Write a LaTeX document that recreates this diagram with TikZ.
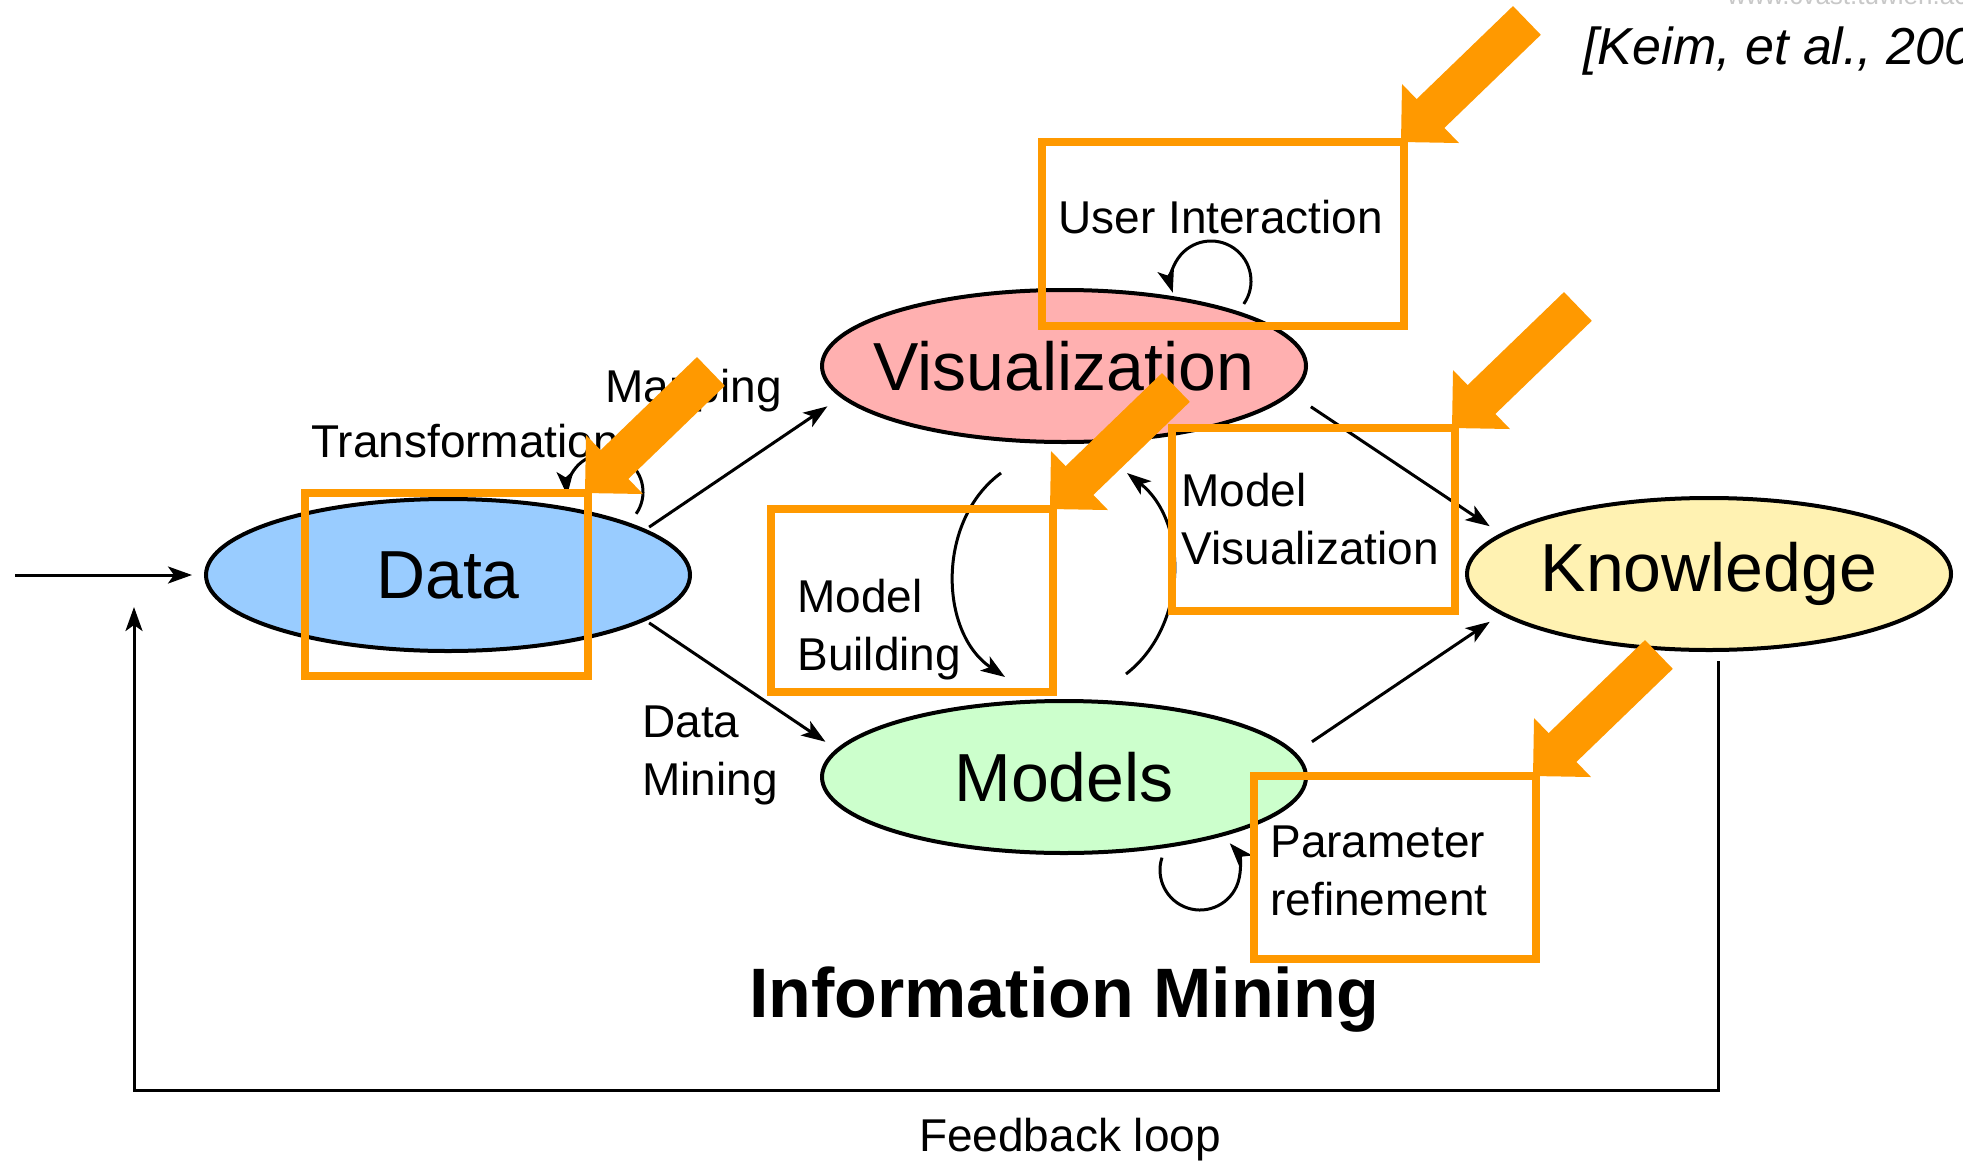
\documentclass[tikz,border=0pt]{standalone}
\usepackage{fontspec}
\setmainfont{Liberation Sans}
\usetikzlibrary{shapes.geometric,arrows.meta}

\definecolor{datablue}{RGB}{153,204,255}
\definecolor{vispink}{RGB}{255,176,176}
\definecolor{modgreen}{RGB}{204,255,204}
\definecolor{knowyellow}{RGB}{255,242,178}
\definecolor{hlorange}{RGB}{255,153,0}
\definecolor{urlgrey}{RGB}{200,200,200}

\tikzset{
  stage/.style={ellipse, draw, line width=2pt, minimum width=242pt,
    minimum height=76pt, inner xsep=-40pt, inner ysep=0pt,
    font=\fontsize{34}{40}\selectfont},
  conn/.style={line width=1.5pt, -{Stealth[length=12pt,width=8.5pt,inset=3pt]}},
  lbl/.style={anchor=base west, align=left, inner sep=0pt,
    font=\fontsize{23}{29}\selectfont},
  hlbox/.style={draw=hlorange, line width=4.25pt},
}

% thick orange pointer, tip at (#1,#2)
\newcommand{\hlarrow}[2]{%
  \fill[hlorange, shift={(#1,#2)}, rotate=224]
    (0,0) -- (-41,41) -- (-41,20) -- (-175,20) -- (-175,-20) -- (-41,-20)
    -- (-41,-41) -- cycle;}

\begin{document}
\begin{tikzpicture}[x=0.5pt,y=0.5pt]
\path[use as bounding box, fill=white] (0,0) rectangle (1963,-1161);

\node[stage, fill=datablue] (data) at (448,-575) {Data};
\node[stage, fill=vispink] (vis) at (1064,-366) {Visualization};
\node[stage, fill=modgreen] (models) at (1064,-777) {Models};
\node[stage, fill=knowyellow] (know) at (1709,-574) {Knowledge};

\coordinate (input) at (15,-575);
\coordinate (fbend) at (134,-607);
\coordinate (mb1) at (1001,-473);
\coordinate (mb2) at (1005,-677);
\coordinate (mv1) at (1126,-674);
\coordinate (mv2) at (1127,-473);
\coordinate (trloop) at (605,-492);
\coordinate (uiloop) at (1211,-281);
\coordinate (prloop) at (1200,-870);

\draw[conn, shorten >=6pt] (input) -- (data.west);
\draw[conn, shorten <=2pt, shorten >=8pt] (data.13) -- (vis.188);
\draw[conn, shorten <=2pt, shorten >=6.5pt] (data.-13) -- (models.173);
\draw[conn, shorten <=11.5pt, shorten >=6.5pt] (vis.-7) -- (know.169);
\draw[conn, shorten <=9.75pt, shorten >=6.5pt] (models.6.5) -- (know.191);
\draw[conn] (mb1) to[bend right=55] (mb2);
\draw[conn] (mv1) to[bend right=52] (mv2);
\draw[conn] ([xshift=4.5pt]know.south) ++(0,-9) -- ++(0,-429) -| (fbend);

% self loops
\draw[conn] (trloop) ++(-35:38) arc[start angle=-35, end angle=185, radius=38];
\draw[conn] (uiloop) ++(-35:40) arc[start angle=-35, end angle=197, radius=40];
\draw[conn] (prloop) ++(162:40) arc[start angle=162, end angle=402, radius=40];

% two-line labels sit on the baseline of their last line
\node[lbl] (mapping) at (605,-402) {Mapping};
\node[lbl] (transf) at (311,-457) {Transformation};
\node[lbl] (datamining) at (642,-795) {Data\\Mining};
\node[lbl] (modelbuild) at (797,-670) {Model\\Building};
\node[lbl] (modelvis) at (1181,-564) {Model\\Visualization};
\node[lbl] (userint) at (1058,-233) {User Interaction};
\node[lbl] (paramref) at (1270,-915) {Parameter\\refinement};
\node[anchor=base, inner sep=0pt, font=\fontsize{35}{42}\selectfont\bfseries]
  (infomining) at (1064,-1017) {Information Mining};
\node[anchor=base, inner sep=0pt, font=\fontsize{23}{29}\selectfont]
  (feedback) at (1070,-1151) {Feedback loop};
\node[anchor=base west, inner sep=0pt, font=\fontsize{26}{32}\selectfont\itshape]
  (cite) at (1583,-65) {[Keim, et al., 200};
\node[anchor=base west, inner sep=0pt, text=urlgrey, font=\fontsize{13}{16}\selectfont]
  (url) at (1727,-5) {www.cvast.tuwien.ac.at};

% highlights
\draw[hlbox] (1042,-142) rectangle (1404,-326);
\draw[hlbox] (305,-493) rectangle (588,-676);
\draw[hlbox] (771,-509) rectangle (1053,-692);
\draw[hlbox] (1172,-428) rectangle (1455,-611);
\draw[hlbox] (1254,-776) rectangle (1536,-959);
\hlarrow{1401}{-142}
\hlarrow{585}{-493}
\hlarrow{1050}{-509}
\hlarrow{1452}{-428}
\hlarrow{1533}{-776}
\end{tikzpicture}
\end{document}
